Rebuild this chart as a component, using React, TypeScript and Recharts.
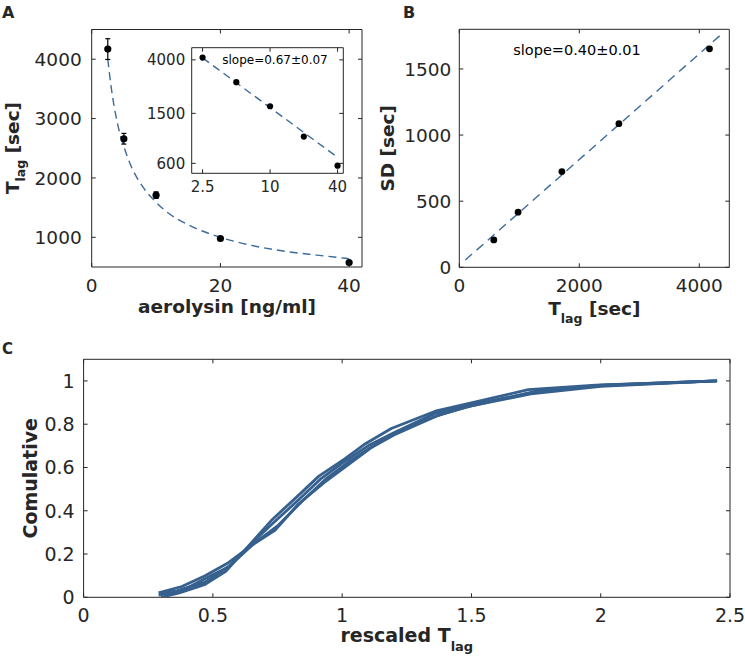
import {
    ComposedChart, LineChart, Line, Scatter, XAxis, YAxis,
    ErrorBar, ReferenceArea
} from "recharts"

const INK = "#262626"
const FIT = "#3b6a9c"
const CDF = "#36608d"
const FONT = "'DejaVu Sans', sans-serif"

// panel A: lag time vs aerolysin concentration
const aerolysin = [2.5, 5, 10, 20, 40]
const tLag = [4170, 2660, 1710, 980, 575]
const tLagErr = [175, 90, 55, 25, 15]
const fitConc = [2.5, 3, 4, 5, 6, 7, 8, 10, 12, 15, 20, 25, 30, 35, 40]
const fitTLag = [4000, 3550, 2920, 2530, 2230, 2010, 1840, 1590, 1400, 1210, 1000, 860, 765, 700, 640]
// inset, log-log
const insetFitConc = [2.5, 40]
const insetFitTLag = [4150, 670]

// panel B: SD vs lag time (same order as aerolysin)
const sdLag = [1652, 1086, 724, 417, 207]
const sdFitT = [100, 4400]
const sdFitSD = [55, 1775]

// panel C: rescaled cumulative curves
const cdfX1 = [0.29, 0.38, 0.47, 0.56, 0.65, 0.74, 0.83, 0.93, 1.02, 1.11, 1.2, 1.37, 1.48, 1.73, 2.0, 2.45]
const cdfY1 = [0.02, 0.05, 0.1, 0.16, 0.24, 0.31, 0.43, 0.53, 0.61, 0.69, 0.75, 0.84, 0.88, 0.94, 0.975, 1.0]
const cdfX2 = [0.3, 0.37, 0.47, 0.55, 0.64, 0.73, 0.83, 0.91, 1.01, 1.09, 1.19, 1.36, 1.47, 1.72, 1.98, 2.45]
const cdfY2 = [0.0, 0.02, 0.06, 0.12, 0.24, 0.36, 0.47, 0.56, 0.64, 0.71, 0.78, 0.86, 0.89, 0.96, 0.98, 1.0]
const cdfX3 = [0.29, 0.38, 0.46, 0.56, 0.65, 0.73, 0.84, 0.92, 1.0, 1.1, 1.2, 1.36, 1.5, 1.75, 2.0, 2.45]
const cdfY3 = [0.01, 0.03, 0.08, 0.14, 0.25, 0.34, 0.46, 0.55, 0.62, 0.7, 0.76, 0.85, 0.89, 0.95, 0.98, 1.0]
const cdfX4 = [0.3, 0.36, 0.47, 0.57, 0.66, 0.75, 0.85, 0.94, 1.03, 1.12, 1.22, 1.38, 1.5, 1.76, 2.02, 2.45]
const cdfY4 = [0.02, 0.03, 0.07, 0.15, 0.25, 0.33, 0.45, 0.55, 0.63, 0.7, 0.77, 0.845, 0.885, 0.955, 0.98, 1.0]

const zip = (xs: number[], ys: number[]) => xs.map((x, i) => ({ x, y: ys[i] }))

const pointsA = aerolysin.map((x, i) => ({ x, y: tLag[i], err: tLagErr[i] }))
const fitA = zip(fitConc, fitTLag)
const fitInset = zip(insetFitConc, insetFitTLag)
const pointsB = zip(tLag, sdLag)
const fitB = zip(sdFitT, sdFitSD)
const cdfs = [zip(cdfX1, cdfY1), zip(cdfX2, cdfY2), zip(cdfX3, cdfY3), zip(cdfX4, cdfY4)]

type TickOpts = { side: "left" | "bottom"; span: number; gap: number; size: number }

// matlab-style box: inward ticks on both sides, labels outside
const frameTick = (o: TickOpts) => (p: any) => {
    const { x, y, payload } = p
    const len = 4
    const label = String(payload.value)
    if (o.side === "left") {
        return (
            <g>
                <line x1={x} x2={x + len} y1={y} y2={y} stroke={INK} />
                <line x1={x + o.span} x2={x + o.span - len} y1={y} y2={y} stroke={INK} />
                <text x={x - o.gap} y={y} dy="0.36em" textAnchor="end"
                    fontSize={o.size} fontFamily={FONT} fill={INK}>{label}</text>
            </g>
        )
    }
    return (
        <g>
            <line x1={x} x2={x} y1={y} y2={y - len} stroke={INK} />
            <line x1={x} x2={x} y1={y - o.span} y2={y - o.span + len} stroke={INK} />
            <text x={x} y={y + o.gap} textAnchor="middle"
                fontSize={o.size} fontFamily={FONT} fill={INK}>{label}</text>
        </g>
    )
}

const dot = (r: number) => (p: any) => <circle cx={p.cx} cy={p.cy} r={r} fill="#000" />

function PanelA() {
    return (
        <div style={{ position: "absolute", left: 0, top: 0 }}>
            <ComposedChart width={370} height={330} margin={{ top: 29.5, right: 8, left: 31.7, bottom: 23 }}>
                <XAxis type="number" dataKey="x" domain={[0, 42]} ticks={[0, 20, 40]} interval={0}
                    allowDataOverflow axisLine={false} tickLine={false} tickSize={0} tickMargin={0} height={40}
                    tick={frameTick({ side: "bottom", span: 237.5, gap: 24.7, size: 18.5 })} />
                <YAxis type="number" dataKey="y" domain={[500, 4500]} ticks={[1000, 2000, 3000, 4000]} interval={0}
                    allowDataOverflow axisLine={false} tickLine={false} tickSize={0} tickMargin={0} width={60}
                    tick={frameTick({ side: "left", span: 270.3, gap: 10, size: 18.5 })} />
                <ReferenceArea x1={0} x2={42} y1={500} y2={4500} fill="none" stroke={INK} strokeWidth={1} />
                <Line data={fitA} dataKey="y" type="monotone" stroke={FIT} strokeWidth={1.4}
                    strokeDasharray="8 5" dot={false} activeDot={false} isAnimationActive={false} />
                <Scatter data={pointsA} dataKey="y" shape={dot(3.6)} isAnimationActive={false}>
                    <ErrorBar dataKey="err" direction="y" width={2.5} stroke="#000" strokeWidth={1.2} isAnimationActive={false} />
                </Scatter>
            </ComposedChart>
        </div>
    )
}

function InsetA() {
    return (
        <div style={{ position: "absolute", left: 130, top: 30 }}>
            <ComposedChart width={230} height={170} margin={{ top: 17.7, right: 16.7, left: 21.7, bottom: 6.7 }}>
                <XAxis type="number" dataKey="x" scale="log" domain={[2, 45]} ticks={[2.5, 10, 40]} interval={0}
                    allowDataOverflow axisLine={false} tickLine={false} tickSize={0} tickMargin={0} height={20}
                    tick={frameTick({ side: "bottom", span: 125.6, gap: 18.4, size: 15 })} />
                <YAxis type="number" dataKey="y" scale="log" domain={[500, 5000]} ticks={[600, 1500, 4000]} interval={0}
                    allowDataOverflow axisLine={false} tickLine={false} tickSize={0} tickMargin={0} width={40}
                    tick={frameTick({ side: "left", span: 151.6, gap: 6.5, size: 15 })} />
                <ReferenceArea x1={2} x2={45} y1={500} y2={5000} fill="#fff" fillOpacity={1} stroke={INK} strokeWidth={1} />
                <Line data={fitInset} dataKey="y" type="linear" stroke={FIT} strokeWidth={1.4}
                    strokeDasharray="8 5" dot={false} activeDot={false} isAnimationActive={false} />
                <Scatter data={pointsA} dataKey="y" shape={dot(3.1)} isAnimationActive={false} />
            </ComposedChart>
        </div>
    )
}

function PanelB() {
    return (
        <div style={{ position: "absolute", left: 370, top: 0 }}>
            <ComposedChart width={375} height={330} margin={{ top: 29.3, right: 15.7, left: 29.3, bottom: 22.7 }}>
                <XAxis type="number" dataKey="x" domain={[0, 4500]} ticks={[0, 2000, 4000]} interval={0}
                    allowDataOverflow axisLine={false} tickLine={false} tickSize={0} tickMargin={0} height={40}
                    tick={frameTick({ side: "bottom", span: 238, gap: 24.4, size: 18.5 })} />
                <YAxis type="number" dataKey="y" domain={[0, 1800]} ticks={[0, 500, 1000, 1500]} interval={0}
                    allowDataOverflow axisLine={false} tickLine={false} tickSize={0} tickMargin={0} width={60}
                    tick={frameTick({ side: "left", span: 270, gap: 8, size: 18.5 })} />
                <ReferenceArea x1={0} x2={4500} y1={0} y2={1800} fill="none" stroke={INK} strokeWidth={1} />
                <Line data={fitB} dataKey="y" type="linear" stroke={FIT} strokeWidth={1.4}
                    strokeDasharray="9 6" dot={false} activeDot={false} isAnimationActive={false} />
                <Scatter data={pointsB} dataKey="y" shape={dot(3.4)} isAnimationActive={false} />
            </ComposedChart>
        </div>
    )
}

function PanelC() {
    return (
        <div style={{ position: "absolute", left: 0, top: 330 }}>
            <LineChart width={745} height={328} margin={{ top: 29.3, right: 15, left: 23.6, bottom: 20.7 }}>
                <XAxis type="number" dataKey="x" domain={[0, 2.5]} ticks={[0, 0.5, 1, 1.5, 2, 2.5]} interval={0}
                    allowDataOverflow axisLine={false} tickLine={false} tickSize={0} tickMargin={0} height={40}
                    tick={frameTick({ side: "bottom", span: 238, gap: 24.4, size: 19 })} />
                <YAxis type="number" dataKey="y" domain={[0, 1.1]} ticks={[0, 0.2, 0.4, 0.6, 0.8, 1]} interval={0}
                    allowDataOverflow axisLine={false} tickLine={false} tickSize={0} tickMargin={0} width={60}
                    tick={frameTick({ side: "left", span: 646.4, gap: 9, size: 19 })} />
                <ReferenceArea x1={0} x2={2.5} y1={0} y2={1.1} fill="none" stroke={INK} strokeWidth={1} />
                {cdfs.map((d, i) => (
                    <Line key={i} data={d} dataKey="y" type="linear" stroke={CDF} strokeWidth={2.8}
                        strokeLinejoin="round" dot={false} activeDot={false} isAnimationActive={false} />
                ))}
            </LineChart>
        </div>
    )
}

function Labels() {
    const bold = { fontFamily: FONT, fontWeight: 700, fill: INK }
    return (
        <svg width={745} height={658} style={{ position: "absolute", left: 0, top: 0, pointerEvents: "none" }}>
            <text x={2} y={18.3} fontSize={16} {...bold}>A</text>
            <text x={403} y={18.3} fontSize={16} {...bold}>B</text>
            <text x={2} y={353.5} fontSize={15} {...bold}>C</text>

            <text transform="translate(18.5,148) rotate(-90)" textAnchor="middle" fontSize={18.5} {...bold}>
                T<tspan dy={6} fontSize={12.5}>lag</tspan><tspan dy={-6}> [sec]</tspan>
            </text>
            <text x={227} y={313} textAnchor="middle" fontSize={18.5} {...bold}>aerolysin [ng/ml]</text>

            <text transform="translate(393.5,148.3) rotate(-90)" textAnchor="middle" fontSize={18.5} {...bold}>SD [sec]</text>
            <text x={594.3} y={315} textAnchor="middle" fontSize={18.5} {...bold}>
                T<tspan dy={8} fontSize={12.5}>lag</tspan><tspan dy={-8}> [sec]</tspan>
            </text>

            <text transform="translate(36.5,478.3) rotate(-90)" textAnchor="middle" fontSize={19} {...bold}>Comulative</text>
            <text x={406.8} y={641.7} textAnchor="middle" fontSize={19} {...bold}>
                rescaled T<tspan dy={9} fontSize={13}>lag</tspan>
            </text>

            <text x={275} y={64} textAnchor="middle" fontSize={12} fontFamily={FONT} fill="#000">slope=0.67±0.07</text>
            <text x={577} y={55} textAnchor="middle" fontSize={14.5} fontFamily={FONT} fill="#000">slope=0.40±0.01</text>
        </svg>
    )
}

export default function App() {
    return (
        <div style={{ position: "absolute", left: 0, top: 0, width: 745, height: 658, background: "#fff" }}>
            <PanelA />
            <InsetA />
            <PanelB />
            <PanelC />
            <Labels />
        </div>
    )
}
